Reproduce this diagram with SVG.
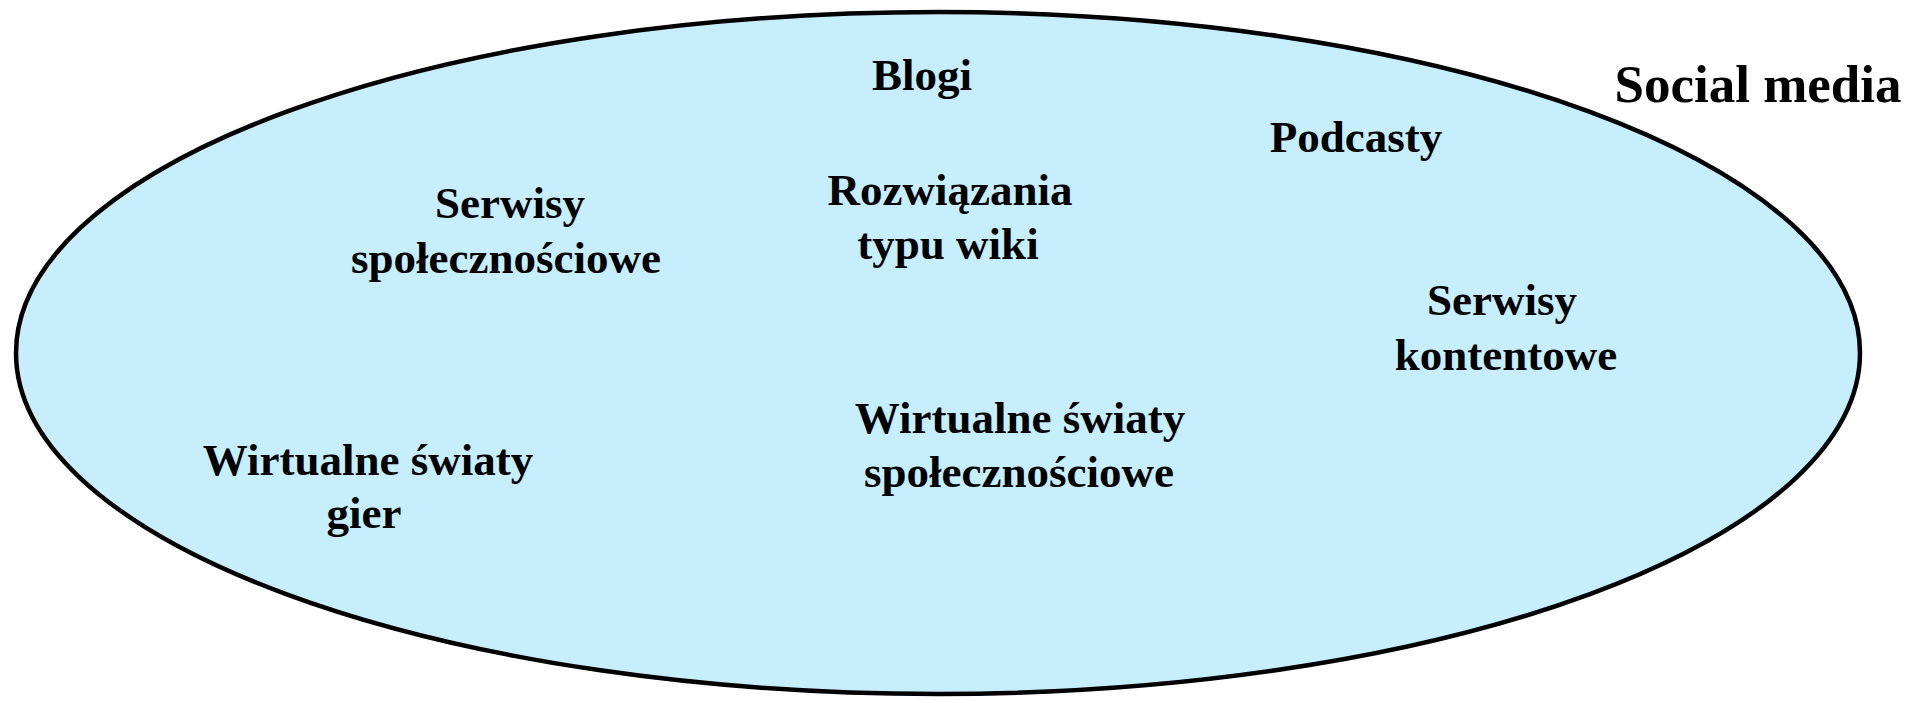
<svg xmlns="http://www.w3.org/2000/svg" width="1915" height="701" viewBox="0 0 1915 701">
<style>
text{font-family:"Liberation Serif","Times New Roman",serif;font-weight:bold;font-size:45px;fill:#000;text-anchor:middle}
.title{font-size:53px}
</style>
<rect width="1915" height="701" fill="#fff"/>
<g id="social-media">
<ellipse cx="938" cy="353" rx="922" ry="341" fill="#C6EEFC" stroke="#000" stroke-width="4.5"/>
<text class="title" x="1758" y="102">Social media</text>
</g>
<g id="blogi"><text x="922" y="90">Blogi</text></g>
<g id="podcasty"><text x="1356" y="152">Podcasty</text></g>
<g id="serwisy-spolecznosciowe"><text x="510" y="218">Serwisy</text><text x="506" y="273">społecznościowe</text></g>
<g id="wiki"><text x="950" y="205">Rozwiązania</text><text x="948" y="259">typu wiki</text></g>
<g id="serwisy-kontentowe"><text x="1502" y="315">Serwisy</text><text x="1506" y="370">kontentowe</text></g>
<g id="swiaty-gier"><text x="368" y="475">Wirtualne światy</text><text x="364" y="528">gier</text></g>
<g id="swiaty-spolecznosciowe"><text x="1020" y="433">Wirtualne światy</text><text x="1019" y="487">społecznościowe</text></g>
<g id="connectors"/>
</svg>
